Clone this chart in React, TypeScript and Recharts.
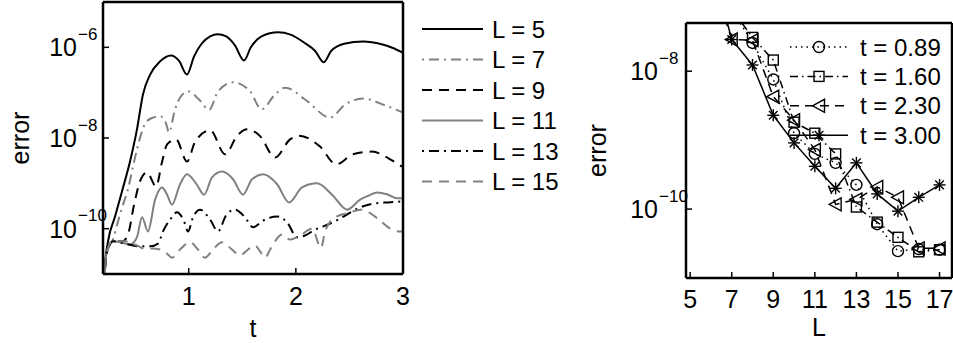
import React from 'react';
import { LineChart, Line, XAxis, YAxis, Legend } from 'recharts';

const FONT = '"Liberation Sans", Arial, Helvetica, sans-serif';
const GRAY = '#808080';

// left panel: error against t, one curve per L
const lValues = [5, 7, 9, 11, 13, 15];

const t5 = [0.2, 0.215, 0.247, 0.31, 0.377, 0.452, 0.517, 0.573, 0.64, 0.732, 0.835, 0.91, 0.984, 1.05, 1.12, 1.2, 1.27, 1.35, 1.43, 1.516, 1.58, 1.68, 1.834, 1.95, 2.08, 2.18, 2.26, 2.33, 2.45, 2.63, 2.8, 2.9, 3.0];
const e5 = [1e-12, 1.26e-11, 5.25e-11, 1.78e-10, 6.61e-10, 3.02e-9, 1.55e-8, 9.12e-8, 2.51e-7, 4.9e-7, 6.61e-7, 5.01e-7, 2.51e-7, 6.31e-7, 1.2e-6, 1.74e-6, 1.95e-6, 1.74e-6, 1.12e-6, 5.13e-7, 1.0e-6, 1.74e-6, 2.14e-6, 1.91e-6, 1.26e-6, 8.32e-7, 4.68e-7, 8.32e-7, 1.2e-6, 1.35e-6, 1.17e-6, 9.77e-7, 7.59e-7];

const t7 = [0.2, 0.22, 0.24, 0.293, 0.34, 0.387, 0.433, 0.48, 0.517, 0.555, 0.6, 0.667, 0.732, 0.788, 0.816, 0.872, 0.928, 0.994, 1.096, 1.19, 1.274, 1.414, 1.573, 1.68, 1.806, 1.9, 2.086, 2.32, 2.46, 2.628, 2.833, 2.99];
const e7 = [1e-12, 1.41e-11, 3.16e-11, 5.75e-11, 1.45e-10, 3.39e-10, 7.41e-10, 2.34e-9, 5.62e-9, 1.2e-8, 2.19e-8, 2.82e-8, 3.02e-8, 2.09e-8, 1.32e-8, 4.27e-8, 8.32e-8, 1.07e-7, 7.08e-8, 4.17e-8, 1.07e-7, 1.7e-7, 1.07e-7, 4.27e-8, 9.12e-8, 1.29e-7, 7.08e-8, 2.82e-8, 5.5e-8, 7.41e-8, 5.25e-8, 3.72e-8];

const t9 = [0.2, 0.22, 0.24, 0.293, 0.38, 0.433, 0.49, 0.545, 0.611, 0.695, 0.75, 0.798, 0.882, 0.984, 1.06, 1.2, 1.34, 1.45, 1.545, 1.666, 1.806, 1.946, 2.03, 2.226, 2.376, 2.534, 2.71, 2.88, 2.99];
const e9 = [1e-12, 1.41e-11, 3.16e-11, 5.25e-11, 5.25e-11, 7.41e-11, 3.39e-10, 1.1e-9, 1.74e-9, 8.51e-10, 2.88e-9, 7.24e-9, 9.33e-9, 3.02e-9, 8.32e-9, 1.48e-8, 4.37e-9, 1.1e-8, 1.55e-8, 1.1e-8, 3.72e-9, 9.33e-9, 1.12e-8, 6.46e-9, 2.63e-9, 4.37e-9, 5.01e-9, 3.39e-9, 2.34e-9];

const t11 = [0.2, 0.22, 0.237, 0.293, 0.36, 0.452, 0.517, 0.564, 0.62, 0.686, 0.751, 0.798, 0.844, 0.919, 0.984, 1.068, 1.143, 1.218, 1.311, 1.414, 1.507, 1.591, 1.694, 1.825, 1.937, 2.058, 2.198, 2.338, 2.478, 2.6, 2.68, 2.758, 2.85, 2.945, 2.99];
const e11 = [1e-12, 1.41e-11, 3.16e-11, 5.25e-11, 5.01e-11, 4.47e-11, 6.46e-11, 1.78e-10, 8.71e-11, 4.37e-10, 8.13e-10, 5.62e-10, 3.39e-10, 9.55e-10, 1.58e-9, 1.0e-9, 5.62e-10, 1.35e-9, 1.82e-9, 1.23e-9, 5.62e-10, 1.23e-9, 1.58e-9, 9.55e-10, 3.8e-10, 8.13e-10, 1.0e-9, 5.62e-10, 2.63e-10, 4.37e-10, 5.37e-10, 6.31e-10, 5.75e-10, 4.68e-10, 4.68e-10];

const t13 = [0.2, 0.22, 0.24, 0.293, 0.405, 0.545, 0.639, 0.714, 0.76, 0.826, 0.891, 0.956, 0.994, 1.04, 1.106, 1.2, 1.274, 1.348, 1.432, 1.526, 1.6, 1.694, 1.825, 1.918, 2.011, 2.086, 2.18, 2.273, 2.366, 2.46, 2.6, 2.74, 2.861, 2.99];
const e13 = [1e-12, 1.41e-11, 3.16e-11, 5.25e-11, 4.68e-11, 4.07e-11, 4.07e-11, 4.68e-11, 8.71e-11, 1.58e-10, 2.29e-10, 1.45e-10, 8.71e-11, 1.78e-10, 2.63e-10, 1.58e-10, 8.71e-11, 1.95e-10, 2.63e-10, 1.78e-10, 1.07e-10, 1.51e-10, 1.86e-10, 1.38e-10, 6.46e-11, 7.08e-11, 9.55e-11, 1.17e-10, 1.45e-10, 1.95e-10, 2.95e-10, 3.63e-10, 3.8e-10, 3.98e-10];

const t15 = [0.2, 0.22, 0.237, 0.293, 0.405, 0.517, 0.59, 0.657, 0.732, 0.797, 0.844, 0.919, 1.012, 1.087, 1.152, 1.227, 1.311, 1.404, 1.479, 1.554, 1.619, 1.666, 1.713, 1.76, 1.871, 1.946, 2.04, 2.151, 2.235, 2.273, 2.366, 2.506, 2.6, 2.693, 2.786, 2.88, 2.955, 2.99];
const e15 = [1e-12, 1.41e-11, 3.16e-11, 5.25e-11, 5.25e-11, 4.27e-11, 3.63e-11, 3.63e-11, 3.47e-11, 2.82e-11, 2.29e-11, 3.47e-11, 5.01e-11, 3.47e-11, 2.29e-11, 3.47e-11, 5.01e-11, 3.47e-11, 2.57e-11, 3.47e-11, 4.27e-11, 3.16e-11, 2.29e-11, 3.47e-11, 7.41e-11, 5.75e-11, 7.08e-11, 1.0e-10, 3.8e-11, 8.71e-11, 1.78e-10, 2.29e-10, 2.63e-10, 2.19e-10, 1.51e-10, 1.0e-10, 8.71e-11, 8.71e-11];

const tTicks = [1, 2, 3];
const leftErrTicks = [1e-10, 1e-8, 1e-6];

// right panel: error against L at four times
const lGrid = [6, 7, 8, 9, 10, 11, 12, 13, 14, 15, 16, 17];
const err089 = [null, 7.94e-8, 2.57e-8, 7.59e-9, 1.26e-9, 6.31e-10, 4.68e-10, 2.24e-10, 6.03e-11, 2.45e-11, 2.63e-11, 2.57e-11];
const err160 = [null, 7.94e-8, 3.09e-8, 1.45e-8, 1.82e-9, 1.26e-9, 6.31e-10, 1.07e-10, 6.46e-11, 3.89e-11, 2.4e-11, 2.57e-11];
const err230 = [2.51e-7, 2.88e-8, 2.82e-8, 4.27e-9, 1.95e-9, 7.24e-10, 1.17e-10, 1.38e-10, 2.09e-10, 1.48e-10, 2.69e-11, 2.69e-11];
const err300 = [3.98e-7, 2.88e-8, 1.23e-8, 2.29e-9, 9.12e-10, 4.17e-10, 2.0e-10, 4.68e-10, 1.66e-10, 9.33e-11, 1.48e-10, 2.24e-10];
const timeLabels = ['t = 0.89', 't = 1.60', 't = 2.30', 't = 3.00'];
const lTicks = [5, 7, 9, 11, 13, 15, 17];
const rightErrTicks = [1e-10, 1e-8];

const zip = (ts: number[], es: number[]) => ts.map((t, i) => ({ t, e: es[i] }));

const leftSeries = [
  { data: zip(t5, e5), stroke: '#000', dash: undefined },
  { data: zip(t7, e7), stroke: GRAY, dash: '2 5 10 5' },
  { data: zip(t9, e9), stroke: '#000', dash: '10 7' },
  { data: zip(t11, e11), stroke: GRAY, dash: undefined },
  { data: zip(t13, e13), stroke: '#000', dash: '2 5 10 5' },
  { data: zip(t15, e15), stroke: GRAY, dash: '10 7' },
].map((s, i) => ({ ...s, name: `L = ${lValues[i]}` }));

const rightData = lGrid.map((L, i) => ({ L, a: err089[i], b: err160[i], c: err230[i], d: err300[i] }));
const rightSeries = [
  { key: 'a', dash: '1.5 4', marker: 'circle' },
  { key: 'b', dash: '8 4 1.5 4', marker: 'square' },
  { key: 'c', dash: '9 6', marker: 'triangle' },
  { key: 'd', dash: undefined, marker: 'star' },
].map((s, i) => ({ ...s, name: timeLabels[i] }));

const Marker = ({ kind, cx, cy }: { kind: string; cx: number; cy: number }) => {
  const st = { fill: 'none', stroke: '#000', strokeWidth: 1.4 };
  if (kind === 'circle') return <circle cx={cx} cy={cy} r={5.5} {...st} />;
  if (kind === 'square') return <rect x={cx - 5} y={cy - 5} width={10} height={10} {...st} />;
  if (kind === 'triangle')
    return <polygon points={`${cx - 6.5},${cy} ${cx + 5.5},${cy - 6.5} ${cx + 5.5},${cy + 6.5}`} {...st} />;
  return (
    <g {...st}>
      <line x1={cx} y1={cy - 6} x2={cx} y2={cy + 6} />
      <line x1={cx - 6} y1={cy} x2={cx + 6} y2={cy} />
      <line x1={cx - 4.3} y1={cy - 4.3} x2={cx + 4.3} y2={cy + 4.3} />
      <line x1={cx - 4.3} y1={cy + 4.3} x2={cx + 4.3} y2={cy - 4.3} />
    </g>
  );
};

const markerDot = (kind: string) => (p: any) => {
  if (p.cx == null || p.cy == null || p.value == null || (Array.isArray(p.value) && p.value[1] == null))
    return <g key={`m-${p.index}`} />;
  return <Marker key={`m-${p.index}`} kind={kind} cx={p.cx} cy={p.cy} />;
};

// MATLAB style log ticks: "10" right-aligned, exponent hanging to the right
const powTick = (shift: number) => (props: any) => {
  const { x, y, payload } = props;
  const exp = Math.round(Math.log10(payload.value));
  return (
    <g>
      <text x={x - shift} y={y} textAnchor="end" dominantBaseline="central" fontSize={25} fontFamily={FONT} fill="#000">
        10
      </text>
      <text x={x - shift + 1} y={y - 13} textAnchor="start" dominantBaseline="central" fontSize={17} fontFamily={FONT} fill="#000">
        {'\u2212' + Math.abs(exp)}
      </text>
    </g>
  );
};

const yTitle = (dx: number) => (props: any) => {
  const vb = props.viewBox || { x: 0, y: 0, width: 0, height: 0 };
  const x = vb.x + dx;
  const y = vb.y + vb.height / 2;
  return (
    <text x={x} y={y} transform={`rotate(-90 ${x} ${y})`} textAnchor="middle" dominantBaseline="central" fontSize={25} fontFamily={FONT} fill="#000">
      error
    </text>
  );
};

const xTitle = (text: string, dy: number) => (props: any) => {
  const vb = props.viewBox || { x: 0, y: 0, width: 0, height: 0 };
  return (
    <text x={vb.x + vb.width / 2} y={vb.y + dy} textAnchor="middle" dominantBaseline="central" fontSize={25} fontFamily={FONT} fill="#000">
      {text}
    </text>
  );
};

const tickFont = { fill: '#000', fontSize: 25, fontFamily: FONT };
const boxLine = { stroke: '#000', strokeWidth: 2.5 };
const tickLine = { stroke: '#000', strokeWidth: 1.5 };

const LeftLegend = () => (
  <svg width={180} height={190} style={{ display: 'block' }}>
    {leftSeries.map((s, i) => {
      const y = 19 + i * 30.5;
      return (
        <g key={s.name}>
          <line x1={7} x2={68} y1={y} y2={y} stroke={s.stroke} strokeWidth={2} strokeDasharray={s.dash} />
          <text x={77} y={y} dominantBaseline="central" fontSize={24} fontFamily={FONT} fill="#000">
            {s.name}
          </text>
        </g>
      );
    })}
  </svg>
);

const RightLegend = () => (
  <svg width={168} height={125} style={{ display: 'block' }}>
    {rightSeries.map((s, i) => {
      const y = 17 + i * 29.4;
      return (
        <g key={s.name}>
          <line x1={5} x2={63} y1={y} y2={y} stroke="#000" strokeWidth={1.5} strokeDasharray={s.dash} />
          <Marker kind={s.marker} cx={34} cy={y} />
          <text x={75} y={y} dominantBaseline="central" fontSize={24} fontFamily={FONT} fill="#000">
            {s.name}
          </text>
        </g>
      );
    })}
  </svg>
);

const ErrorVsTime = () => (
  <LineChart width={600} height={343} margin={{ top: 1, right: 196, bottom: 9, left: 8 }}>
    <XAxis
      dataKey="t"
      type="number"
      domain={[0.2, 3]}
      ticks={tTicks}
      allowDataOverflow
      height={60}
      tickSize={-6}
      tickMargin={19}
      tick={tickFont}
      axisLine={boxLine}
      tickLine={tickLine}
      label={{ content: xTitle('t', 54) }}
    />
    <XAxis
      xAxisId="top"
      orientation="top"
      dataKey="t"
      type="number"
      domain={[0.2, 3]}
      ticks={tTicks}
      allowDataOverflow
      height={1}
      tickSize={-6}
      tick={false}
      axisLine={boxLine}
      tickLine={tickLine}
    />
    <YAxis
      scale="log"
      domain={[1e-11, 1e-5]}
      ticks={leftErrTicks}
      allowDataOverflow
      width={95}
      tickSize={-6}
      tickMargin={9}
      tick={powTick(23)}
      axisLine={boxLine}
      tickLine={tickLine}
      label={{ content: yTitle(12) }}
    />
    <YAxis
      yAxisId="right"
      orientation="right"
      scale="log"
      domain={[1e-11, 1e-5]}
      ticks={leftErrTicks}
      allowDataOverflow
      width={1}
      tickSize={-6}
      tick={false}
      axisLine={boxLine}
      tickLine={tickLine}
    />
    {leftSeries.map((s) => (
      <Line
        key={s.name}
        name={s.name}
        data={s.data}
        dataKey="e"
        type="monotone"
        stroke={s.stroke}
        strokeWidth={2}
        strokeDasharray={s.dash}
        dot={false}
        activeDot={false}
        isAnimationActive={false}
      />
    ))}
    <Legend
      layout="vertical"
      align="center"
      verticalAlign="middle"
      content={() => <LeftLegend />}
      wrapperStyle={{ left: 415, top: 10, width: 180, height: 190 }}
    />
  </LineChart>
);

const ErrorVsL = () => (
  <LineChart width={393} height={343} data={rightData} margin={{ top: 22, right: 0, bottom: 10, left: 16 }}>
    <XAxis
      dataKey="L"
      type="number"
      domain={[4.8, 17.6]}
      ticks={lTicks}
      allowDataOverflow
      height={55}
      tickSize={-6}
      tickMargin={18}
      tick={tickFont}
      axisLine={boxLine}
      tickLine={tickLine}
      label={{ content: xTitle('L', 49) }}
    />
    <XAxis
      xAxisId="top"
      orientation="top"
      dataKey="L"
      type="number"
      domain={[4.8, 17.6]}
      ticks={lTicks}
      allowDataOverflow
      height={1}
      tickSize={-6}
      tick={false}
      axisLine={boxLine}
      tickLine={tickLine}
    />
    <YAxis
      scale="log"
      domain={[1e-11, 5e-8]}
      ticks={rightErrTicks}
      allowDataOverflow
      width={110}
      tickSize={-6}
      tickMargin={11}
      tick={powTick(23)}
      axisLine={boxLine}
      tickLine={tickLine}
      label={{ content: yTitle(21) }}
    />
    <YAxis
      yAxisId="right"
      orientation="right"
      scale="log"
      domain={[1e-11, 5e-8]}
      ticks={rightErrTicks}
      allowDataOverflow
      width={1}
      tickSize={-6}
      tick={false}
      axisLine={boxLine}
      tickLine={tickLine}
    />
    {rightSeries.map((s) => (
      <Line
        key={s.key}
        name={s.name}
        dataKey={s.key}
        type="linear"
        stroke="#000"
        strokeWidth={1.5}
        strokeDasharray={s.dash}
        dot={markerDot(s.marker)}
        activeDot={false}
        isAnimationActive={false}
      />
    ))}
    <Legend
      layout="vertical"
      align="center"
      verticalAlign="middle"
      content={() => <RightLegend />}
      wrapperStyle={{ left: 225, top: 30, width: 168, height: 125 }}
    />
  </LineChart>
);

export default function App() {
  return (
    <div style={{ position: 'absolute', left: 0, top: 0, width: 953, height: 343, background: '#fff', overflow: 'hidden' }}>
      <div style={{ position: 'absolute', left: 0, top: 0 }}>
        <ErrorVsTime />
      </div>
      <div style={{ position: 'absolute', left: 560, top: 0 }}>
        <ErrorVsL />
      </div>
    </div>
  );
}
